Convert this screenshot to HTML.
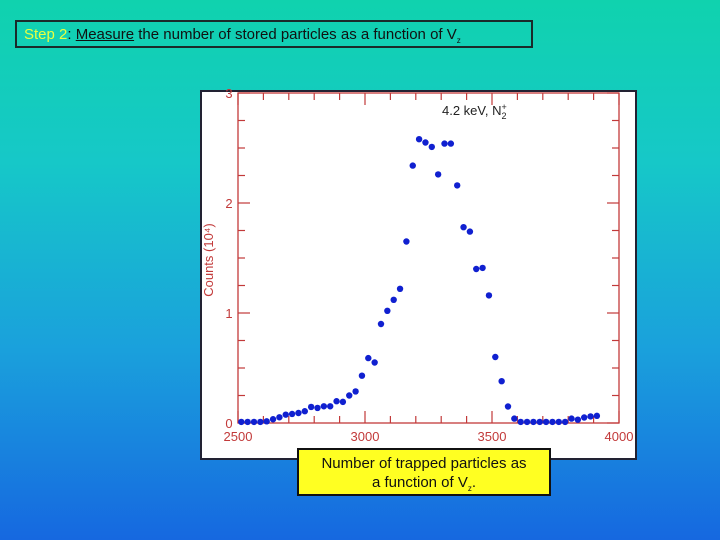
<!DOCTYPE html>
<html><head><meta charset="utf-8"><style>
html,body{margin:0;padding:0}
body{width:720px;height:540px;position:relative;overflow:hidden;font-family:"Liberation Sans",sans-serif;
background:linear-gradient(to bottom,#10d2ae 0%,#16c8c8 30%,#1aa0dc 65%,#1668e0 100%);}
#title{position:absolute;left:15px;top:20px;width:518px;height:28px;border:2px solid #1a2a2a;box-sizing:border-box;font-size:15px;line-height:25px;padding-left:7px;color:#111;white-space:nowrap}
#panel{position:absolute;left:200px;top:90px;width:437px;height:370px;background:#fff;border:2px solid #223;box-sizing:border-box}
#caption{position:absolute;left:297px;top:448px;width:254px;height:48px;background:#ffff22;border:2px solid #111;box-sizing:border-box;text-align:center;font-size:15px;line-height:19px;padding-top:4px;color:#111}
svg{position:absolute;left:0;top:0}
</style></head><body>
<div id="title"><span style="color:#e8ff40">Step 2</span>: <u>Measure</u> the number of stored particles as a function of V<sub style="font-size:8px">z</sub></div>
<div id="panel"></div>
<svg id="chart" width="720" height="540"></svg>
<div id="caption">Number of trapped particles as<br>a function of V<sub style="font-size:8px">z</sub>.</div>
<script>
const voltages=[2513,2538,2563,2588,2613,2638,2663,2688,2713,2738,2763,2788,2813,2838,2863,2888,2913,2938,2963,2988,3013,3038,3063,3088,3113,3138,3163,3188,3213,3238,3263,3288,3313,3338,3363,3388,3413,3438,3463,3488,3513,3538,3563,3588,3613,3638,3663,3688,3713,3738,3763,3788,3813,3838,3863,3888,3913];
const counts=[0.01,0.01,0.01,0.01,0.015,0.034,0.052,0.076,0.082,0.091,0.107,0.146,0.137,0.152,0.152,0.198,0.192,0.25,0.287,0.43,0.59,0.55,0.90,1.02,1.12,1.22,1.65,2.34,2.58,2.55,2.51,2.26,2.54,2.54,2.16,1.78,1.74,1.40,1.41,1.16,0.60,0.38,0.15,0.04,0.01,0.01,0.01,0.01,0.01,0.01,0.01,0.01,0.04,0.03,0.05,0.06,0.065];
const xTicks=[2500,3000,3500,4000];
const xTickLabels=["2500","3000","3500","4000"];
const yTicks=[0,1,2,3];
const yTickLabels=["0","1","2","3"];
const X0=238,X1=619,Y0=423,Y1=93;
const xs=v=>X0+(v-2500)/1500*(X1-X0);
const ys=v=>Y0-v/3*(Y0-Y1);
const svg=document.getElementById('chart');
const NS='http://www.w3.org/2000/svg';
function mk(t,a){const e=document.createElementNS(NS,t);for(const k in a)e.setAttribute(k,a[k]);svg.appendChild(e);return e;}
const red='#c23a3a';
const frame=mk('rect',{x:X0,y:Y1,width:X1-X0,height:Y0-Y1,fill:'none',stroke:red,'stroke-width':1.3});


for(let v=2500;v<=4000;v+=100){const x=xs(v);const L=(v%500===0)?12:7;
 const t1=mk('line',{x1:x,y1:Y0,x2:x,y2:Y0-L,stroke:red,'stroke-width':1.2});
 
 
 const t2=mk('line',{x1:x,y1:Y1,x2:x,y2:Y1+L,stroke:red,'stroke-width':1.2});
 
 }
for(let v=0;v<=3;v+=0.25){const y=ys(v);const L=(v%1===0)?12:7;
 const t1=mk('line',{x1:X0,y1:y,x2:X0+L,y2:y,stroke:red,'stroke-width':1.2});
 
 
 const t2=mk('line',{x1:X1,y1:y,x2:X1-L,y2:y,stroke:red,'stroke-width':1.2});
 
 }
xTicks.forEach((v,i)=>{const t=mk('text',{x:xs(v),y:441,'text-anchor':'middle','font-size':13,fill:red});t.textContent=xTickLabels[i];
 
 });
yTicks.forEach((v,i)=>{const t=mk('text',{x:229,y:ys(v)+5,'text-anchor':'middle','font-size':13,fill:red});t.textContent=yTickLabels[i];
 
 });
const yt=mk('text',{x:213,y:260,'text-anchor':'middle','font-size':13,fill:red,transform:'rotate(-90 213 260)'});
yt.textContent='Counts (10⁴)';


const ann=mk('text',{x:442,y:115,'font-size':13,fill:'#222'});
ann.innerHTML='4.2  keV,  N<tspan font-size="9" dy="4">2</tspan><tspan font-size="9" dy="-9" dx="-5">+</tspan>';


voltages.forEach((v,i)=>{const c=mk('circle',{cx:xs(v),cy:ys(counts[i]),r:3.2,fill:'#1020d0'});
 
 });
</script>
</body></html>
